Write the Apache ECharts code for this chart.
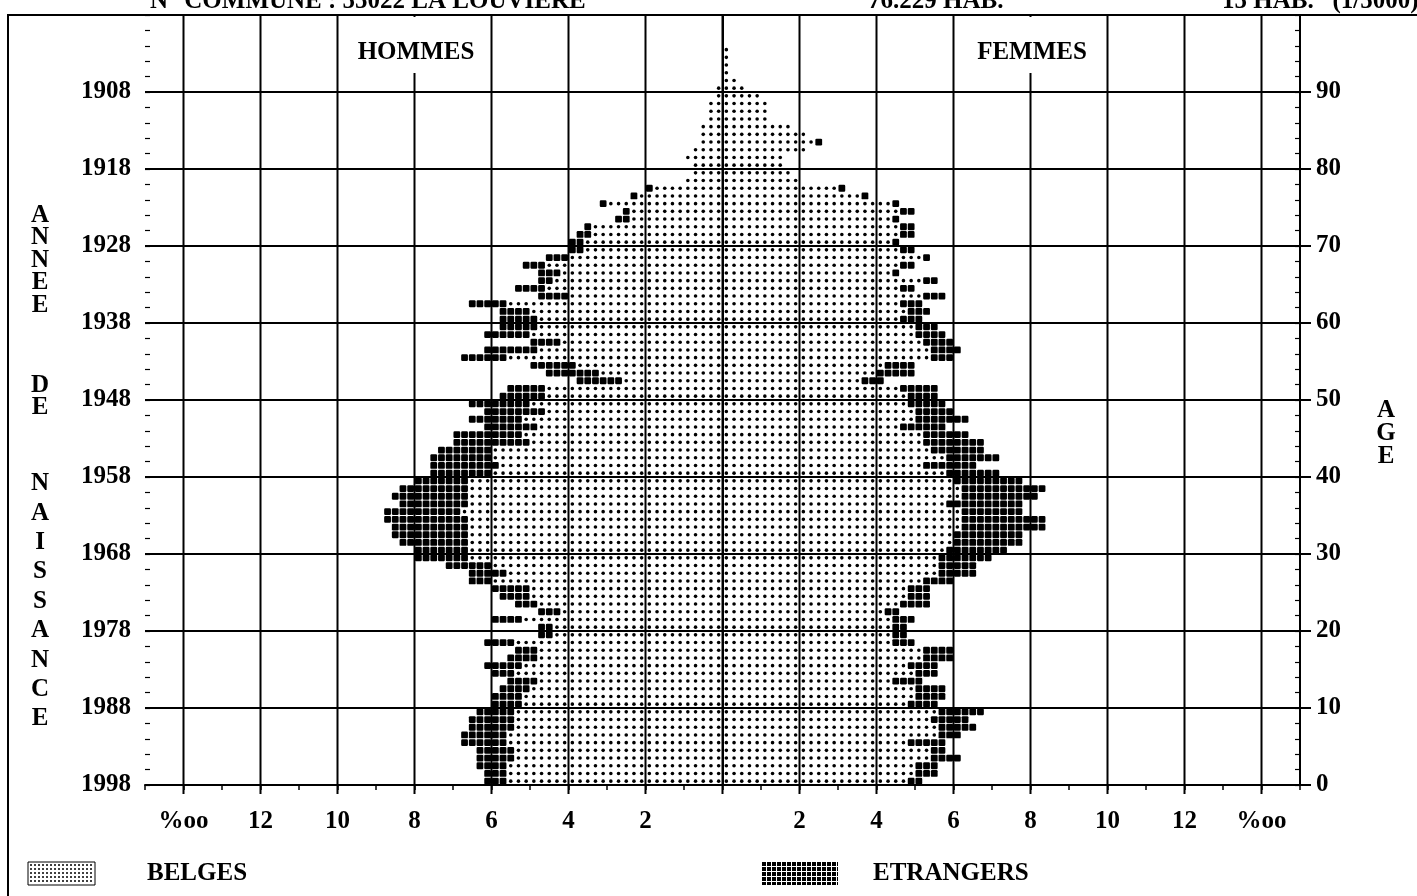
<!DOCTYPE html>
<html><head><meta charset="utf-8">
<script src="https://cdn.jsdelivr.net/npm/echarts@6/dist/echarts.min.js"></script>
<style>html,body{margin:0;padding:0;background:#fff}#c{width:1417px;height:896px}</style>
</head><body><div id="c"></div>
<script>
// ---- DATA (per mille, one cell = 0.2 per mille) ----
const ages = [0,1,2,3,4,5,6,7,8,9,10,11,12,13,14,15,16,17,18,19,20,21,22,23,24,25,26,27,28,29,30,31,32,33,34,35,36,37,38,39,40,41,42,43,44,45,46,47,48,49,50,51,52,53,54,55,56,57,58,59,60,61,62,63,64,65,66,67,68,69,70,71,72,73,74,75,76,77,78,79,80,81,82,83,84,85,86,87,88,89,90,91,92,93,94,95];
const hommesBelges = [5.6,5.6,5.6,5.4,5.4,5.6,5.6,5.4,5.4,5.4,5.2,5.2,5.0,4.8,5.4,5.2,4.8,4.8,5.4,4.4,4.4,5.2,4.2,4.8,5.0,5.0,6.0,5.6,6.0,6.6,6.6,6.6,6.6,6.6,6.6,6.8,6.6,6.6,6.6,6.6,6.0,5.8,6.0,6.0,5.0,5.2,4.8,5.2,4.6,5.0,4.6,4.6,2.6,3.2,3.8,5.6,4.8,4.2,5.0,4.8,4.8,5.0,5.6,4.0,4.6,4.4,4.2,4.6,4.0,3.6,3.6,3.4,3.4,2.4,2.4,3.0,2.2,1.8,1.0,0.8,0.8,1.0,0.8,0.6,0.6,0.6,0.4,0.4,0.4,0.2,0.2,0,0,0,0,0];
const hommesEtrangers = [0.6,0.6,0.8,1.0,1.0,1.2,1.2,1.2,1.2,1.0,0.8,0.8,0.8,0.8,0.6,1.0,0.8,0.6,0.8,0.4,0.4,0.8,0.6,0.6,0.8,1.0,0.6,1.0,1.2,1.4,1.4,1.8,2.0,2.0,2.2,2.0,1.8,2.0,1.8,1.4,1.6,1.8,1.6,1.4,2.0,1.8,1.4,1.4,1.6,1.6,1.2,1.0,1.2,1.4,1.2,1.2,1.4,0.8,1.2,1.0,1.0,0.8,1.0,0.8,0.8,0.4,0.6,0.6,0.6,0.4,0.4,0.4,0.2,0.4,0.2,0.2,0.2,0.2,0,0,0,0,0,0,0,0,0,0,0,0,0,0,0,0,0,0];
const femmesBelges = [4.8,5.0,5.0,5.4,5.4,4.8,5.6,5.6,5.4,5.6,4.8,5.0,5.0,4.4,5.0,4.8,5.2,5.2,4.4,4.4,4.4,4.4,4.2,4.6,4.8,4.8,5.2,5.6,5.6,5.6,5.8,6.0,6.0,6.2,6.2,6.2,5.8,6.2,6.2,6.0,5.8,5.2,5.8,5.4,5.2,5.2,4.6,5.0,5.0,4.8,4.8,4.6,3.6,4.0,4.2,5.4,5.4,5.2,5.0,5.0,4.6,4.8,4.6,5.2,4.6,5.2,4.4,4.6,5.2,4.6,4.4,4.6,4.6,4.4,4.6,4.4,3.6,3.0,2.0,1.8,1.6,1.6,2.2,2.4,2.2,1.8,1.2,1.2,1.2,1.0,0.6,0.4,0.2,0.2,0.2,0.2];
const femmesEtrangers = [0.4,0.6,0.6,0.8,0.4,1.0,0.6,1.0,1.0,1.2,0.8,0.8,0.8,0.8,0.6,0.8,0.8,0.8,0.6,0.4,0.4,0.6,0.4,0.8,0.6,0.6,0.8,1.0,1.0,1.4,1.6,1.8,1.8,2.2,2.2,1.6,2.0,2.0,2.2,1.8,1.4,1.4,1.4,1.4,1.6,1.2,1.2,1.4,1.0,1.0,0.8,1.0,0.6,1.0,0.8,0.6,0.8,0.8,0.8,0.6,0.6,0.6,0.6,0.6,0.4,0.4,0.2,0.4,0.2,0.4,0.2,0.4,0.4,0.2,0.4,0.2,0.2,0.2,0,0,0,0,0,0.2,0,0,0,0,0,0,0,0,0,0,0,0];

// ---- TICKS / LABELS ----
const yTickValues = [0,10,20,30,40,50,60,70,80,90];
const yearLabels = ['1998','1988','1978','1968','1958','1948','1938','1928','1918','1908'];
const ageLabels = ['0','10','20','30','40','50','60','70','80','90'];
const xGridValues = [-14,-12,-10,-8,-6,-4,-2,0,2,4,6,8,10,12,14];
const xLabelValues = [-14,-12,-10,-8,-6,-4,-2,2,4,6,8,10,12,14];
const xLabelTexts = ['%oo','12','10','8','6','4','2','2','4','6','8','10','12','%oo'];
const CELL = 0.2;

const FONT = 'Liberation Serif';
const FS = 25;
const chart = echarts.init(document.getElementById('c'));

function pyramid(name, belg, etr, side) {
  return {
    type: 'custom', name: name, z: 5,
    data: ages.map((a, i) => [a, belg[i], etr[i]]),
    encode: {y: 0},
    renderItem: function (params, api) {
      const age = api.value(0), b = api.value(1), f = api.value(2);
      const nb = Math.round(b / CELL), nf = Math.round(f / CELL);
      const sz = api.size([CELL, 1]);
      const ch = [];
      for (let k = 0; k < nb + nf; k++) {
        const p = api.coord([side * (k + 0.5) * CELL, age + 0.5]);
        if (k < nb) {
          ch.push({type: 'circle', shape: {cx: p[0], cy: p[1], r: 1.8}, style: {fill: '#000'}});
        } else {
          const w = sz[0] * 0.88, h = sz[1] * 0.88;
          ch.push({type: 'rect', shape: {x: p[0] - w / 2, y: p[1] - h / 2, width: w, height: h, r: 1.2}, style: {fill: '#000'}});
        }
      }
      return {type: 'group', children: ch};
    }
  };
}

const gridSeries = {
  type: 'custom', z: 2, silent: true,
  data: xGridValues.map(v => [v, 0]),
  renderItem: function (params, api) {
    const x = api.value(0);
    const p0 = api.coord([x, 100]);
    const p1 = api.coord([x, 0]);
    return {type: 'line', shape: {x1: p0[0], y1: p0[1], x2: p1[0], y2: p1[1] + 9}, style: {stroke: '#000', lineWidth: 2}};
  }
};

// legend swatches (decorative)
function dotSwatch(x, y, w, h) {
  const ch = [{type: 'rect', shape: {x: x, y: y, width: w, height: h}, style: {fill: '#fff', stroke: '#000', lineWidth: 1}}];
  for (let yy = y + 3; yy < y + h - 1; yy += 4) for (let xx = x + 3; xx < x + w - 1; xx += 4)
    ch.push({type: 'circle', shape: {cx: xx, cy: yy, r: 1}, style: {fill: '#000'}});
  return {type: 'group', z: 50, children: ch};
}
function sqSwatch(x, y, w, h) {
  const ch = [{type: 'rect', shape: {x: x, y: y, width: w, height: h}, style: {fill: '#000'}}];
  for (let yy = y + 4; yy < y + h; yy += 5) ch.push({type: 'rect', shape: {x: x, y: yy, width: w, height: 1}, style: {fill: '#fff'}});
  for (let xx = x + 4; xx < x + w; xx += 5) ch.push({type: 'rect', shape: {x: xx, y: y, width: 1, height: h}, style: {fill: '#fff'}});
  return {type: 'group', z: 50, children: ch};
}

const txt = (t, x, y, extra) => ({type: 'text', z: 60, style: Object.assign({text: t, x: x, y: y, font: 'bold ' + FS + 'px "' + FONT + '"', fill: '#000'}, extra || {})});
const labelFont = {color: '#000', fontFamily: FONT, fontWeight: 'bold', fontSize: FS};

chart.setOption({
  animation: false,
  backgroundColor: '#fff',
  grid: {left: 145, right: 117, top: 15, bottom: 111},
  xAxis: {
    type: 'value', min: -15, max: 15, interval: 1,
    axisLine: {show: true, onZero: false, lineStyle: {color: '#000', width: 2}},
    axisTick: {show: true, length: 5, lineStyle: {color: '#000', width: 1.5}},
    axisLabel: Object.assign({margin: 24, formatter: v => { const i = xLabelValues.indexOf(v); return i >= 0 ? xLabelTexts[i] : ''; }}, labelFont),
    splitLine: {show: false}
  },
  yAxis: [{
    type: 'value', min: 0, max: 100, interval: 10, position: 'left',
    axisLine: {show: true, lineStyle: {color: '#000', width: 2}},
    axisTick: {show: true, length: 11, lineStyle: {color: '#000', width: 2}},
    axisLabel: Object.assign({margin: 14, formatter: v => { const i = yTickValues.indexOf(v); return i >= 0 ? yearLabels[i] : ''; }}, labelFont),
    splitLine: {show: true, lineStyle: {color: '#000', width: 2}}
  }, {
    type: 'value', min: 0, max: 100, interval: 10, position: 'right',
    axisLine: {show: true, lineStyle: {color: '#000', width: 2}},
    axisTick: {show: true, length: 11, lineStyle: {color: '#000', width: 2}},
    axisLabel: Object.assign({margin: 16, formatter: v => { const i = yTickValues.indexOf(v); return i >= 0 ? ageLabels[i] : ''; }}, labelFont),
    splitLine: {show: false}
  }, {
    type: 'value', min: 0, max: 100, interval: 2, position: 'left',
    axisLine: {show: false}, axisLabel: {show: false}, splitLine: {show: false},
    axisTick: {show: true, inside: true, length: 5, lineStyle: {color: '#000', width: 1.2}}
  }, {
    type: 'value', min: 0, max: 100, interval: 2, position: 'right',
    axisLine: {show: false}, axisLabel: {show: false}, splitLine: {show: false},
    axisTick: {show: true, inside: true, length: 5, lineStyle: {color: '#000', width: 1.2}}
  }],
  series: [gridSeries, pyramid('HOMMES', hommesBelges, hommesEtrangers, -1), pyramid('FEMMES', femmesBelges, femmesEtrangers, 1)],
  graphic: [
    {type: 'polyline', z: 40, shape: {points: [[8, 896], [8, 15], [1417, 15]]}, style: {stroke: '#000', lineWidth: 2, fill: null}},
    {type: 'rect', z: 45, shape: {x: 346, y: 17, width: 140, height: 56}, style: {fill: '#fff'}},
    {type: 'rect', z: 45, shape: {x: 964, y: 17, width: 136, height: 56}, style: {fill: '#fff'}},
    txt('HOMMES', 416, 53, {align: 'center', verticalAlign: 'middle'}),
    txt('FEMMES', 1032, 53, {align: 'center', verticalAlign: 'middle'}),
    txt('A\nN\nN\nE\nE', 40, 204, {align: 'center', verticalAlign: 'top', lineHeight: 22.5}),
    txt('D\nE', 40, 374, {align: 'center', verticalAlign: 'top', lineHeight: 22.5}),
    txt('N\nA\nI\nS\nS\nA\nN\nC\nE', 40, 469, {align: 'center', verticalAlign: 'top', lineHeight: 29.4}),
    txt('A\nG\nE', 1386, 399, {align: 'center', verticalAlign: 'top', lineHeight: 23}),
    txt('N° COMMUNE : 55022 LA LOUVIERE', 150, -11, {verticalAlign: 'top'}),
    txt('76.229 HAB.', 868, -11, {verticalAlign: 'top'}),
    txt('15 HAB.   (1/5000)', 1222, -11, {verticalAlign: 'top'}),
    dotSwatch(28, 862, 67, 23),
    txt('BELGES', 147, 874, {verticalAlign: 'middle'}),
    sqSwatch(762, 862, 76, 23),
    txt('ETRANGERS', 873, 874, {verticalAlign: 'middle'})
  ]
});
</script>
</body></html>
